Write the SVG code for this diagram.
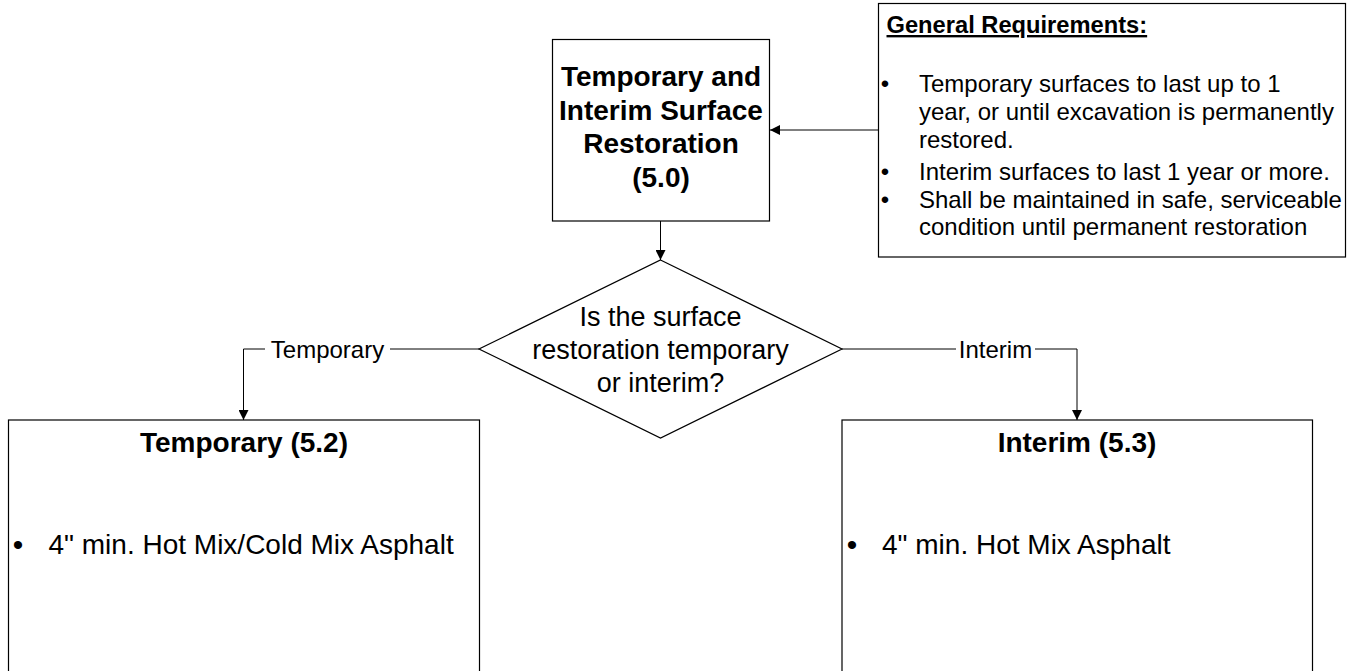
<svg xmlns="http://www.w3.org/2000/svg" width="1353" height="671" viewBox="0 0 1353 671">
<defs>
<style>
.box{fill:#fff;stroke:#000;stroke-width:1.2}
.ln{fill:none;stroke:#000;stroke-width:1}
.t{font-family:"Liberation Sans",Arial,sans-serif;fill:#000}
.b{font-weight:bold}
.c{text-anchor:middle}
.lbl{font-family:"Liberation Sans",Arial,sans-serif;font-size:24px;fill:#000;text-anchor:middle}
</style>
<marker id="ah" viewBox="0 0 10 10" refX="10" refY="5" markerWidth="11" markerHeight="10" markerUnits="userSpaceOnUse" orient="auto">
<path d="M0,0 L10,5 L0,10 z" fill="#000"/>
</marker>
</defs>
<rect width="1353" height="671" fill="#fff"/>
<g id="connectors">
<line class="ln" x1="878" y1="130" x2="770" y2="130" marker-end="url(#ah)"/>
<line class="ln" x1="660.5" y1="221" x2="660.5" y2="260" marker-end="url(#ah)"/>
<polyline class="ln" points="479,349 243.5,349 243.5,420" marker-end="url(#ah)"/>
<polyline class="ln" points="842,349 1077,349 1077,420" marker-end="url(#ah)"/>
<rect x="265" y="335" width="125" height="26" fill="#fff"/>
<text class="lbl" x="327.5" y="358">Temporary</text>
<rect x="956" y="335" width="79" height="26" fill="#fff"/>
<text class="lbl" x="995.5" y="358">Interim</text>
</g>
<g id="main">
<rect class="box" x="552.5" y="39.5" width="217" height="181.5"/>
<text class="t b c" font-size="28" x="661" y="86">Temporary and</text>
<text class="t b c" font-size="28" x="661" y="119.5">Interim Surface</text>
<text class="t b c" font-size="28" x="661" y="153">Restoration</text>
<text class="t b c" font-size="28" x="661" y="186.5">(5.0)</text>
</g>
<g id="general">
<rect class="box" x="878.5" y="3.5" width="467" height="253.5"/>
<text class="t b" font-size="23.7" x="886.5" y="33" text-decoration="underline">General Requirements:</text>
<g class="t" font-size="24">
<text x="885" y="92" text-anchor="middle">•</text>
<text x="919" y="92">Temporary surfaces to last up to 1</text>
<text x="919" y="120">year, or until excavation is permanently</text>
<text x="919" y="148">restored.</text>
<text x="885" y="180" text-anchor="middle">•</text>
<text x="919" y="180">Interim surfaces to last 1 year or more.</text>
<text x="885" y="208" text-anchor="middle">•</text>
<text x="919" y="208">Shall be maintained in safe, serviceable</text>
<text x="919" y="235">condition until permanent restoration</text>
</g>
</g>
<g id="decision">
<polygon class="box" points="660.5,260 842,349 660.5,438 479,349"/>
<text class="t c" font-size="27" x="660.5" y="326">Is the surface</text>
<text class="t c" font-size="27" x="660.5" y="358.5">restoration temporary</text>
<text class="t c" font-size="27" x="660.5" y="391.5">or interim?</text>
</g>
<g id="temporary">
<rect class="box" x="8.5" y="420" width="471" height="270"/>
<text class="t b c" font-size="28" x="244" y="452">Temporary (5.2)</text>
<text class="t c" font-size="30" x="18" y="555">•</text>
<text class="t" font-size="28" x="48.5" y="554">4" min. Hot Mix/Cold Mix Asphalt</text>
</g>
<g id="interim">
<rect class="box" x="842" y="420" width="470.5" height="270"/>
<text class="t b c" font-size="28" x="1077" y="452">Interim (5.3)</text>
<text class="t c" font-size="30" x="852" y="555">•</text>
<text class="t" font-size="28" x="882" y="554">4" min. Hot Mix Asphalt</text>
</g>
</svg>
